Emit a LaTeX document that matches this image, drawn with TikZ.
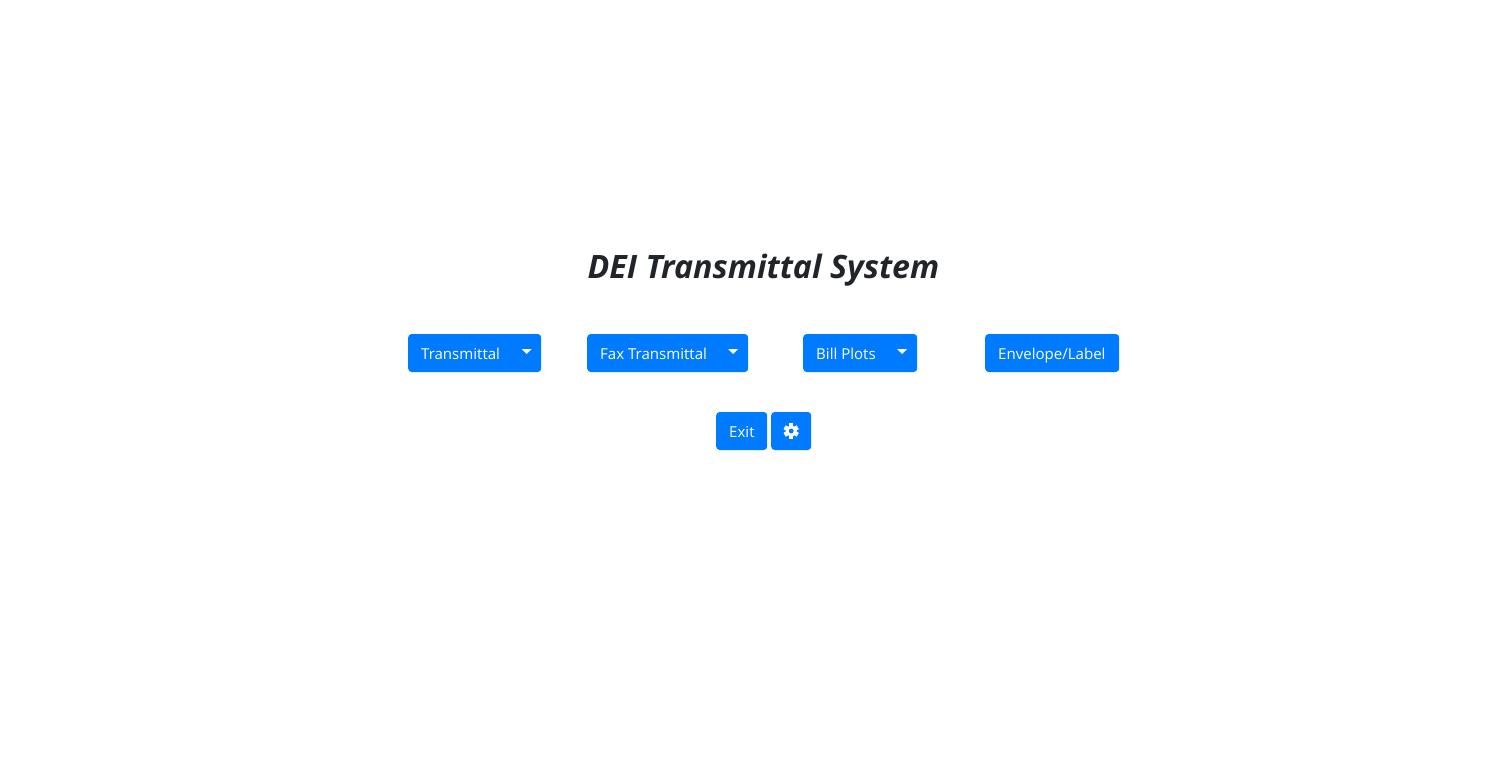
\documentclass[tikz,border=0pt]{standalone}
\usepackage{fontspec}
\setmainfont{Open Sans}
\usepackage{xcolor}
\usetikzlibrary{arrows.meta,positioning,calc}
\definecolor{btnblue}{HTML}{007BFF}
\definecolor{titleink}{HTML}{212529}
\tikzset{
  btn/.style={fill=btnblue,rounded corners=3.5pt,minimum height=38pt,inner sep=0pt,anchor=west},
  btntext/.style={text=white,font=\fontsize{15.05}{18}\selectfont,inner sep=0pt,anchor=base west},
  caret/.style={fill=white}
}
\newcommand{\downcaret}[1]{\fill[caret] ($(#1)+(-5,-2.5)$)--($(#1)+(5,-2.5)$)--($(#1)+(0,2.5)$)--cycle;}
\begin{document}
\begin{tikzpicture}[x=1pt,y=-1pt]
\useasboundingbox (0,0) rectangle (1508,760);
\node[text=titleink,font=\fontsize{32.2}{38}\selectfont\bfseries\itshape,inner sep=0pt,anchor=base] (title) at (763.5,278.5) {DEI Transmittal System};
% upper row
\node[btn,minimum width=133pt] (transmittal) at (408,353) {};
\node[btn,minimum width=161pt] (fax) at (587,353) {};
\node[btn,minimum width=114pt] (bill) at (803,353) {};
\node[btn,minimum width=134pt] (envelope) at (985,353) {};
\node[btntext] (transmittaltext) at (421,359) {Transmittal};
\node[btntext] (faxtext) at (600,359) {Fax Transmittal};
\node[btntext] (billtext) at (816,359) {Bill Plots};
\node[btntext] (envelopetext) at (998,359) {Envelope/Label};
\downcaret{526.5,351.5}
\downcaret{733,351.5}
\downcaret{902,351.5}
% lower row
\node[btn,minimum width=51pt] (exit) at (716,431) {};
\node[btn,minimum width=40pt] (settings) at (771,431) {};
\node[btntext] (exittext) at (729,437) {Exit};
\foreach \a in {0,60,...,300}
  \fill[white,rotate around={\a:(settings.center)}] ($(settings.center)+(-2.2,-7.6)$) rectangle ($(settings.center)+(2.2,0)$);
\fill[white] (settings.center) circle (5.6);
\fill[btnblue] (settings.center) circle (2.4);
\end{tikzpicture}
\end{document}
